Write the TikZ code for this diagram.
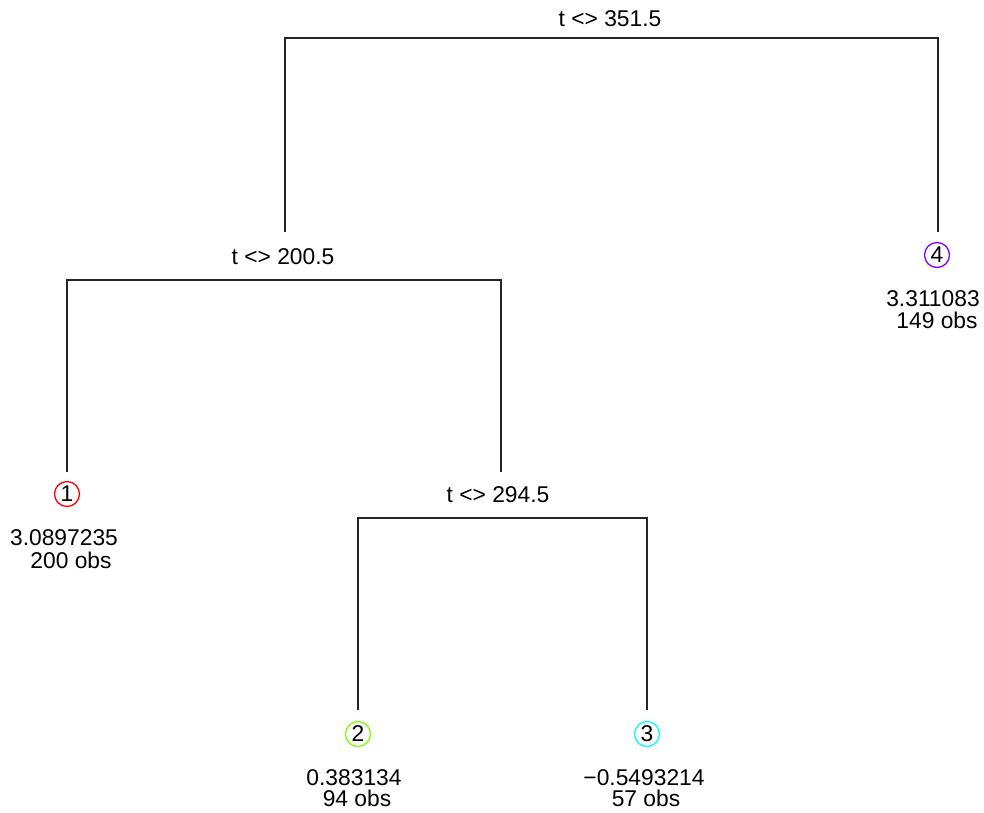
\documentclass[tikz,border=0pt]{standalone}
\usepackage{fontspec}
\setmainfont{Liberation Sans}
\definecolor{c1}{HTML}{FF0000}
\definecolor{c2}{HTML}{80FF00}
\definecolor{c3}{HTML}{00FFFF}
\definecolor{c4}{HTML}{8000FF}
\tikzset{
  lbl/.style={inner sep=0pt, anchor=base, font=\fontsize{22.8}{25}\selectfont},
  leafc/.style={circle, draw=#1, line width=1.3pt, minimum size=25pt, inner sep=0pt, font=\fontsize{22.8}{25}\selectfont},
  edge/.style={line width=1.4pt, draw=black!85}
}
\begin{document}
\begin{tikzpicture}[x=1pt,y=-1pt]
\useasboundingbox (0,0) rectangle (984,812);
% split labels
\node[lbl] (t0) at (610,26) {t <> 351.5};
\node[lbl] (t1) at (283,264) {t <> 200.5};
\node[lbl] (t2) at (498,502) {t <> 294.5};
% split points
\coordinate (s0) at (610,38);
\coordinate (s1) at (283,280);
\coordinate (s2) at (501,518);
% ends of the vertical lines
\coordinate (e1) at (285,232);
\coordinate (e4) at (938,232);
\coordinate (ea) at (67,472);
\coordinate (e2s) at (501,472);
\coordinate (eb) at (358,710);
\coordinate (ec) at (647,710);
% leaves
\node[leafc=c1] (L1) at (67,494) {1};
\node[leafc=c2] (L2) at (358,734) {2};
\node[leafc=c3] (L3) at (647,734) {3};
\node[leafc=c4] (L4) at (937,255) {4};
\node[lbl] (v1) at (64,545) {3.0897235};
\node[lbl] (n1) at (71,568) {200 obs};
\node[lbl] (v2) at (354,785) {0.383134};
\node[lbl] (n2) at (357,806) {94 obs};
\node[lbl] (v3) at (644,785) {−0.5493214};
\node[lbl] (n3) at (646,806) {57 obs};
\node[lbl] (v4) at (933,306) {3.311083};
\node[lbl] (n4) at (937,328) {149 obs};
% edges
\draw[edge] (e1) |- (s0) -| (e4);
\draw[edge] (ea) |- (s1) -| (e2s);
\draw[edge] (eb) |- (s2) -| (ec);
\end{tikzpicture}
\end{document}
